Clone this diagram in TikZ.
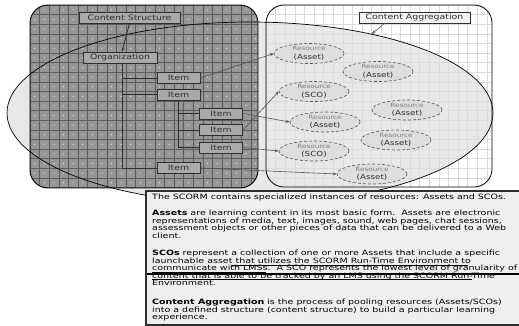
\documentclass[tikz,border=0pt]{standalone}
\usepackage{fontspec}
\setmainfont{DejaVu Sans}
\newfontfamily\wide[FakeStretch=1.25]{DejaVu Sans}
\newfontfamily\descfont[FakeStretch=1.3]{DejaVu Sans}
\usetikzlibrary{shapes.geometric,arrows.meta}

\definecolor{panelgray}{HTML}{969696}
\definecolor{griddark}{HTML}{5C5C5C}
\definecolor{ellgray}{HTML}{E8E8E8}
\definecolor{gridlight}{HTML}{DCDCDC}
\definecolor{resfill}{HTML}{DEDEDE}
\definecolor{itemfill}{HTML}{A9A9A9}
\definecolor{boxfill}{HTML}{EFEFEF}
\definecolor{inkgray}{HTML}{2E2E2E}
\definecolor{linkgray}{HTML}{555555}

\tikzset{
  labelfont/.style={font=\wide\fontsize{7.5}{8}\selectfont},
  treebox/.style={draw=inkgray, line width=0.8pt, fill=itemfill, text=inkgray,
    inner sep=0pt, minimum height=11pt, labelfont},
  itembox/.style={treebox, minimum width=43pt},
  resource/.style={ellipse, draw=linkgray, densely dashed, line width=0.6pt,
    fill=resfill, inner sep=0pt, minimum width=70pt, minimum height=20pt,
    align=center, text=inkgray, font=\wide\fontsize{7}{8.5}\selectfont},
  link/.style={draw=linkgray, line width=0.6pt,
    -{Stealth[length=4pt,width=3pt]}},
  branch/.style={draw=inkgray, line width=0.8pt},
  txt/.style={anchor=base west, inner sep=0pt, text=black,
    font=\descfont\fontsize{7.3}{8}\selectfont},
  emphline/.style={line width=1.4pt, black},
}
\newcommand{\resname}{{\fontsize{5.8}{6}\selectfont\color{gray}Resource}}

\begin{document}
\begin{tikzpicture}[x=1pt,y=-1pt]
\useasboundingbox (0,0) rectangle (519,325);

% aggregation ellipse (fill only; outline comes later)
\node[ellipse, fill=ellgray, inner sep=0pt, minimum width=486pt,
  minimum height=182pt] (bigell) at (250,113) {};

% right panel: content aggregation
\begin{scope}
  \clip[rounded corners=18pt] (266,5) rectangle (492,187);
  \fill[white] (266,5) rectangle (492,187);
  \fill[ellgray] (250,113) ellipse [x radius=243, y radius=91];
  \foreach \i in {0,...,24} \draw[gridlight, line width=0.5pt] (266+9.6*\i,5) -- (266+9.6*\i,187);
  \foreach \j in {0,...,19} \draw[gridlight, line width=0.5pt] (266,5+9.6*\j) -- (492,5+9.6*\j);
\end{scope}
\draw[line width=0.8pt, rounded corners=18pt] (266,5) rectangle (492,187);

% left panel: content structure
\begin{scope}
  \clip[rounded corners=18pt] (30,5) rectangle (258,188);
  \fill[panelgray] (30,5) rectangle (258,188);
  \foreach \i in {0,...,24}
    \foreach \j in {0,...,19}
      \fill[white!85!panelgray] (34.8+9.6*\i,9.8+9.6*\j) circle (0.6);
  \foreach \i in {0,...,24} \draw[griddark, line width=0.6pt] (30+9.6*\i,5) -- (30+9.6*\i,188);
  \foreach \j in {0,...,19} \draw[griddark, line width=0.6pt] (30,5+9.6*\j) -- (258,5+9.6*\j);
\end{scope}
\draw[line width=0.9pt, rounded corners=18pt] (30,5) rectangle (258,188);

% aggregation ellipse outline
\draw[line width=0.7pt] (250,113) ellipse [x radius=243, y radius=91];

% content structure tree
\node[treebox, minimum width=101pt] (cs) at (129.5,17.5) {Content Structure};
\node[treebox, minimum width=74pt] (org) at (120,57.5) {Organization};
\node[itembox] (it1) at (178.5,78) {Item};
\node[itembox] (it2) at (178.5,94.5) {Item};
\node[itembox] (it3) at (221,113.5) {Item};
\node[itembox] (it4) at (221,130) {Item};
\node[itembox] (it5) at (221,147.5) {Item};
\node[itembox] (it6) at (178.5,168) {Item};

\draw[link, draw=inkgray, line width=0.8pt] (cs.south) -- ([xshift=2pt]org.north);
\draw[branch] ([xshift=2pt]org.south) |- (it6.west);
\draw[branch] ([xshift=2pt]org.south |- it1.west) -- (it1.west);
\draw[branch] ([xshift=2pt]org.south |- it2.west) -- (it2.west);
\draw[branch] (it2.south) |- (it5.west);
\draw[branch] (it2.south |- it3.west) -- (it3.west);
\draw[branch] (it2.south |- it4.west) -- (it4.west);

% resources
\node[draw=inkgray, line width=0.8pt, fill=white!95!black, inner sep=0pt,
  minimum width=111pt, minimum height=11pt, text=inkgray, labelfont]
  (ca) at (414.5,17.5) {Content Aggregation};
\node[resource] (r1) at (309,53.5) {\resname\\(Asset)};
\node[resource] (r2) at (378,71.5) {\resname\\(Asset)};
\node[resource] (r3) at (314,91.5) {\resname\\(SCO)};
\node[resource] (r4) at (407,110) {\resname\\(Asset)};
\node[resource] (r5) at (325,122) {\resname\\(Asset)};
\node[resource] (r6) at (396,140) {\resname\\(Asset)};
\node[resource] (r7) at (314,151) {\resname\\(SCO)};
\node[resource] (r8) at (372,174) {\resname\\(Asset)};

\draw[link] ([xshift=-30pt]ca.south) -- (bigell.33);
\draw[link] (it1.east) -- (r1.west);
\draw[link] (it3.east) -- (r5.west);
\draw[link] (it4.east) -- (r3.west);
\draw[link] (it5.east) -- (r7.west);
\draw[link] (it6.east) -- (r8.west);

% description box
\node[draw=inkgray, line width=1.6pt, fill=boxfill, anchor=north west,
  minimum width=378pt, minimum height=134pt, inner sep=0pt] (desc) at (145,190) {};

\node[txt] (l1) at (152,199.5) {The SCORM contains specialized instances of resources: Assets and SCOs.};
\node[txt] (l2) at (152,215.5) {\textbf{Assets} are learning content in its most basic form.\ \ Assets are electronic};
\node[txt] (l3) at (152,223.1) {representations of media, text, images, sound, web pages, chat sessions,};
\node[txt] (l4) at (152,230.7) {assessment objects or other pieces of data that can be delivered to a Web};
\node[txt] (l5) at (152,238.3) {client.};
\node[txt] (l6) at (152,255.5) {\textbf{SCOs} represent a collection of one or more Assets that include a specific};
\node[txt] (l7) at (152,263.1) {launchable asset that utilizes the SCORM Run-Time Environment to};
\node[txt] (l8) at (152,270.7) {communicate with LMSs.\ \ A SCO represents the lowest level of granularity of};
\node[txt] (l9) at (152,278.3) {content that is able to be tracked by an LMS using the SCORM Run-Time};
\node[txt] (l10) at (152,285.9) {Environment.};
\node[txt] (l11) at (152,304.5) {\textbf{Content Aggregation} is the process of pooling resources (Assets/SCOs)};
\node[txt] (l12) at (152,312.1) {into a defined structure (content structure) to build a particular learning};
\node[txt] (l13) at (152,319.7) {experience.};

% hand-drawn emphasis marks
\draw[emphline, line width=1.1pt] (232,265.2) -- (468,265.2);
\draw[line width=0.5pt] (152,272.3) -- (266,272.3);
\draw[emphline] (147,274) -- (519,274);
\draw[emphline, line width=1.2pt] (152,279.7) -- (472,279.7);
\end{tikzpicture}
\end{document}
